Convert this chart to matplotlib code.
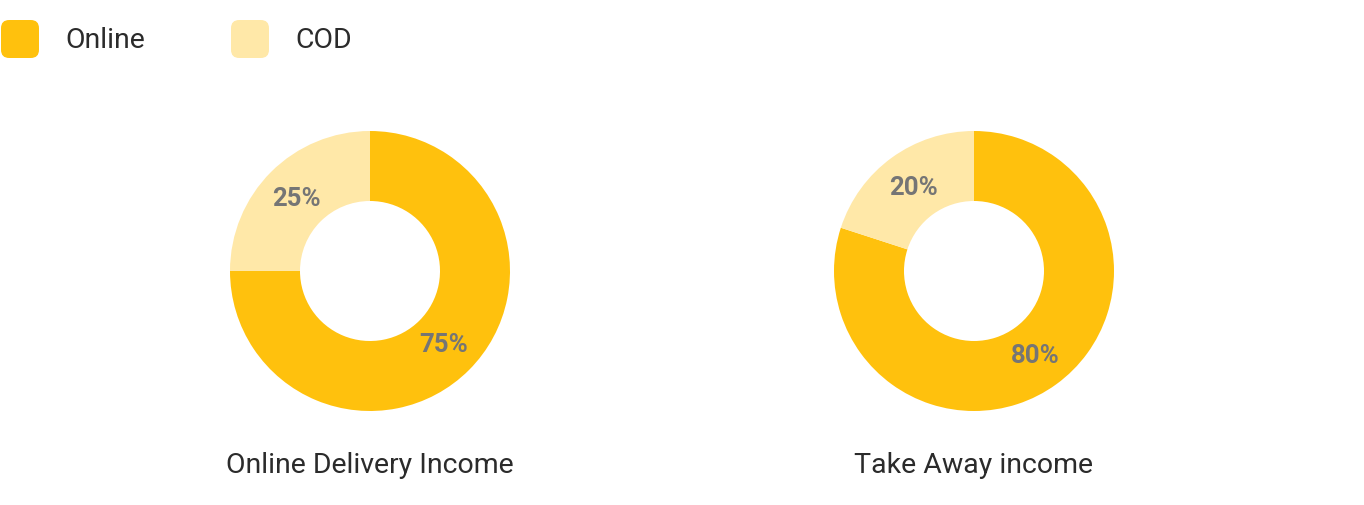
import matplotlib.pyplot as plt
from matplotlib.patches import FancyBboxPatch

plt.rcParams['font.family'] = ['Roboto', 'DejaVu Sans']

# Data
series = ["Online", "COD"]
colors = ["#FFC10D", "#FFE8A8"]
titles = ["Online Delivery Income", "Take Away income"]
values = [
    [75, 25],
    [80, 20],
]

W, H = 1364, 506
fig = plt.figure(figsize=(W / 100, H / 100), dpi=100)

# donut positions in pixels (center x, center y from top)
centers = [(370, 272), (974, 272)]
R = 140

for (cx, cy), vals, title in zip(centers, values, titles):
    ax = fig.add_axes([(cx - R) / W, 1 - (cy + R) / H, 2 * R / W, 2 * R / H])
    wedges, texts, autotexts = ax.pie(
        vals, colors=colors, startangle=90, counterclock=False,
        radius=1.0, wedgeprops=dict(width=0.5, linewidth=0),
        autopct=lambda p: f"{p:.0f}%", pctdistance=0.74,
        textprops=dict(color="#757575", fontsize=18.5, fontweight="bold"))
    ax.set_xlim(-1, 1)
    ax.set_ylim(-1, 1)
    ax.set_aspect('equal')
    ax.axis('off')
    fig.text(cx / W, 1 - 466 / H, title, ha='center', va='center',
             fontsize=20.5, color="#2b2b2b")

# legend
legend_x = [0, 230]
for lx, name, col in zip(legend_x, series, colors):
    box = FancyBboxPatch(((lx + 1) / W, 1 - 59 / H), 38 / W, 38 / H,
                         boxstyle="round,pad=0,rounding_size=0.006",
                         transform=fig.transFigure, facecolor=col,
                         edgecolor='none', mutation_aspect=W / H)
    fig.patches.append(box)
    fig.text((lx + 65) / W, 1 - 40 / H, name, ha='left', va='center',
             fontsize=20.5, color="#2b2b2b")

fig.savefig("out.png", dpi=100)
